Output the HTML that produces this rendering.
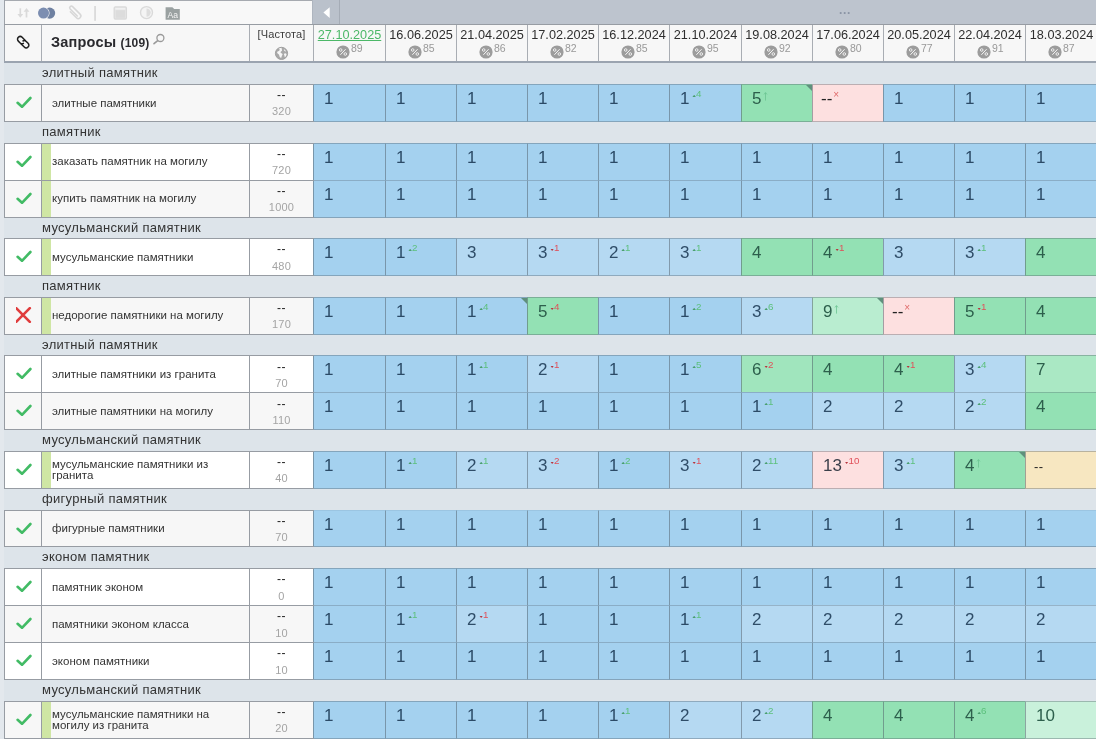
<!DOCTYPE html>
<html lang="ru"><head><meta charset="utf-8"><title>Запросы</title>
<style>
html,body{margin:0;padding:0}
body{width:1096px;height:739px;overflow:hidden;background:#dde4ea;font-family:"Liberation Sans","DejaVu Sans",sans-serif;color:#333}
#app{position:relative;width:1096px;height:739px;overflow:hidden;background:#dde4ea}
#app>div{position:absolute;box-sizing:border-box}
.lstrip{background:#e3e8ed}
.vl{background:#979ca3}
.hl{background:#979ca3}
.tb{background:#f8f8f8}
.gbar{background:#bdc4ce}
.hc{background:#f7f7f7}
.g{left:42px;width:600px;font-size:13px;letter-spacing:0.3px;color:#333;white-space:nowrap}
.st{left:5px;width:36px;display:flex;align-items:center;justify-content:center;padding:0 0 2px 1px}
.strip{background:#cfe6a4}
.q{left:52px;width:196px;display:flex;align-items:center;font-size:11.5px;color:#333;line-height:11px;padding-bottom:2px}
.fq{left:250px;width:63px;text-align:center}
.fq .fd{position:absolute;left:0;right:0;top:4px;font-size:12px;color:#222;line-height:14px;letter-spacing:0.5px}
.fq .fv{position:absolute;left:0;right:0;top:20px;font-size:11px;color:#a4a4a4;line-height:14px;letter-spacing:0.2px}
.c{border-left:1px solid rgba(80,92,104,.5);border-top:1px solid rgba(80,92,104,.38);white-space:nowrap;padding:4px 0 0 10px;font-size:0}
.c.sh{border-top-color:rgba(80,92,104,.3)}
.c.nt{border-top-color:rgba(80,92,104,.1)}
.c.lb{border-bottom:1px solid rgba(80,92,104,.38)}
.c .v{display:inline-block;vertical-align:top;font-size:17px;line-height:20px}
.c .d{display:inline-block;vertical-align:top;margin:0 0 0 3px;font-size:9.8px;line-height:10px}
.c .d i{display:inline-block;width:3.4px;height:2.3px;margin-right:0.2px;vertical-align:0;clip-path:polygon(50% 0,100% 100%,0 100%)}
.c .up{color:#5cc07c}
.c .up i{background:#4a9f70}
.c .dn{color:#e0505a}
.c .dn i{background:#b8363f;clip-path:polygon(0 0,100% 0,50% 100%)}
.c .ar{display:inline-block;vertical-align:top;margin:3px 0 0 2px;width:5px;height:10px}
.c .ar svg{display:block}
.c .xx{display:inline-block;vertical-align:top;margin:0 0 0 1px;font-size:10px;line-height:12px;color:#e06a6a}
.c.dash{padding-left:8px}
.c .cn{position:absolute;right:0;top:0;width:0;height:0;border-top:6px solid #5f907c;border-left:6px solid transparent}
.dh{background:#f7f7f7;text-align:center}
.dh .dt{position:absolute;left:0;right:0;top:3px;font-size:12.7px;line-height:15px;color:#2e2e2e}
.dh.cur .dt{color:#4cb868;text-decoration:underline}
.dh .pc{position:absolute;left:21.6px;top:20.4px;width:14px;height:14px}
.dh .pc svg{display:block}
.dh .pv{position:absolute;left:37px;top:17px;font-size:10.5px;line-height:12px;color:#999}
.ttl{font-weight:bold;font-size:14.5px;letter-spacing:0.2px;line-height:35px;color:#2a2a2e;white-space:nowrap}
.ttl span{font-size:12px}
.frq{font-size:11px;letter-spacing:0.1px;text-align:center;line-height:18px;color:#3c3c3c}

.gbtn{background:#bac1cb;border-right:1px solid #a5acb6;border-left:1px solid #aeb5bf}
.gbtn svg,.tbi svg,.lnk svg,.mag svg,.glb svg{display:block}
.dots{font-size:12px;line-height:20px;color:#8b94a5;text-align:center;letter-spacing:0.6px;font-weight:bold}
.hl2{background:#9ba4b0}
.c.bg .v{font-size:13px;letter-spacing:0.3px}
.c.bg{padding-top:5px}
.q span{position:relative;display:block}

</style></head>
<body>
<div id="app">
<div class="lstrip" style="left:0;top:0;width:4px;height:739px"></div>
<div class="tb" style="left:5px;top:1px;width:307px;height:23px"></div>
<div class="gbar" style="left:312px;top:0;width:784px;height:25px"></div>
<div class="gbtn" style="left:312px;top:0;width:28px;height:25px"><svg viewBox="0 0 26 25" width="26" height="25"><path d="M16.7 7.2 L16.7 17.9 L10.4 12.6 Z" fill="#fff"/></svg></div>
<div class="dots" style="left:836px;top:0;width:18px;height:24px">...</div>
<div class="hl" style="left:4px;top:0;width:308px;height:1px;background:#a6aab0"></div>
<div class="vl" style="left:4px;top:0;width:1px;height:62px;background:#9da2a9"></div>
<div class="hc" style="left:5px;top:25px;width:308px;height:36px"></div>
<div class="hl" style="left:4px;top:24px;width:1092px;height:1px"></div>
<div class="hl2" style="left:4px;top:61px;width:1092px;height:2px"></div>
<div class="vl" style="left:41px;top:25px;width:1px;height:36px;background:#a9adb3"></div>
<div class="vl" style="left:249px;top:25px;width:1px;height:36px;background:#a9adb3"></div>
<div class="vl" style="left:313px;top:25px;width:1px;height:36px;background:#a9adb3"></div>
<div class="tbi" style="left:5px;top:1px;width:200px;height:23px"><svg viewBox="5 1 200 23" width="200" height="23">
<g fill="none" stroke="#dadada" stroke-width="1.7" stroke-linecap="butt">
<path d="M20.3 8.3 V15.5"/><path d="M26.5 10.5 V17.5"/>
</g>
<path d="M17.4 14 H23.2 L20.3 17.7 Z" fill="#dadada"/><path d="M23.6 11.8 H29.4 L26.5 8.1 Z" fill="#dadada"/>
<circle cx="49.6" cy="13.1" r="5.6" fill="#6f81a1"/>
<circle cx="43.5" cy="13.1" r="6.1" fill="#f8f8f8"/>
<circle cx="43.5" cy="13.1" r="5.5" fill="#7c8eb1"/>
<g transform="rotate(-45 75.2 12.9)" fill="none" stroke="#d7d7d7" stroke-width="1.5" stroke-linecap="round">
<path d="M72.6 8.6 V17.2 a2.6 2.6 0 0 0 5.2 0 V6.6 a1.7 1.7 0 0 0 -3.4 0 V16.6"/>
</g>
<rect x="94.3" y="6" width="1.5" height="14.8" fill="#d4d4d4"/>
<rect x="114.2" y="6.8" width="12.2" height="12.2" rx="1.2" fill="#e6e6e6" stroke="#dadada" stroke-width="1.3"/>
<rect x="115.6" y="10.2" width="9.4" height="7.6" fill="#dcdcdc"/>
<rect x="115.4" y="8.2" width="9.8" height="1.2" fill="#f4f4f4"/>
<circle cx="146.5" cy="12.6" r="6" fill="#f4f4f4" stroke="#dadada" stroke-width="1.4"/>
<path d="M146.5 8.4 a4.2 4.2 0 0 1 0 8.4 Z" fill="#dddddd"/>
<path d="M165.6 7.2 H172.4 L174.2 9.1 H179.8 V19.7 H165.6 Z" fill="#9aa1a1"/>
<text x="172.7" y="17.9" font-family="Liberation Sans, sans-serif" font-size="8.6" fill="#f4f4f4" text-anchor="middle">Aa</text>
</svg></div>
<div class="lnk" style="left:5px;top:25px;width:36px;height:36px"><svg viewBox="5 25 36 36" width="36" height="36">
<g transform="translate(23.2 42.2) rotate(45)" fill="none" stroke="#1e1e1e" stroke-width="1.5" stroke-linecap="round">
<path d="M0.2 -2.7 H-4.2 a2.7 2.7 0 0 0 0 5.4 H-1.6 a2.7 2.7 0 0 0 2.6 -2"/>
<path d="M-0.2 2.7 H4.2 a2.7 2.7 0 0 0 0 -5.4 H1.6 a2.7 2.7 0 0 0 -2.6 2"/>
</g></svg></div>
<div class="ttl" style="left:51px;top:25px;width:190px;height:36px">Запросы <span>(109)</span></div>
<div class="mag" style="left:150px;top:30px;width:18px;height:18px"><svg viewBox="150 30 18 18" width="18" height="18">
<circle cx="160.4" cy="38" r="3.5" fill="none" stroke="#9a9a9a" stroke-width="1.3"/>
<path d="M157.7 40.6 L154 43.7" stroke="#9a9a9a" stroke-width="1.6" stroke-linecap="round" fill="none"/></svg></div>
<div class="frq" style="left:250px;top:25px;width:63px;height:36px">[Частота]</div>
<div class="glb" style="left:274px;top:46px;width:15px;height:15px"><svg viewBox="0 0 15 15" width="15" height="15">
<circle cx="7.5" cy="7.4" r="6.1" fill="#a9a9a9" stroke="#a0a0a0" stroke-width="1"/>
<path d="M4.6 2.6 C5.6 3 6 3.8 5.4 4.6 C4.8 5.4 3.6 5.2 3.2 6 C2.8 7 3.8 7.6 4.6 8.2 C5.4 8.8 5.2 10 5.8 11 C6.2 11.8 7 12 7.4 11.4 C7.8 10.6 7.6 9.8 8.2 9.2 C8.8 8.6 8.6 7.8 7.8 7.4 C7 7 6.4 6.8 6.6 6 C6.8 5.2 7.8 5.2 8 4.4 C8.2 3.6 7.4 3 7.8 2.2 C6.6 1.8 5.4 2 4.6 2.6 Z" fill="#f6f6f6"/>
<path d="M10 3.2 C10.8 3.6 11.6 4.4 12 5.4 C11.4 5.6 10.8 5.4 10.4 4.8 C10 4.2 9.6 3.8 10 3.2 Z M10.6 7.4 C11.4 7.2 12.2 7.6 12.6 8.2 C12.4 9.4 11.8 10.4 11 11.2 C10.4 10.6 10.6 9.8 10.2 9 C9.8 8.4 10 7.8 10.6 7.4 Z" fill="#f6f6f6"/>
</svg></div>

<div class="dh cur" style="left:314px;top:25px;width:71px;height:36px"><span class="dt">27.10.2025</span><span class="pc"><svg viewBox="0 0 14 14" width="14" height="14"><circle cx="7" cy="7" r="6.6" fill="#9c9c9c"/><path d="M4.4 9.8 L9.6 4.2" stroke="#fff" stroke-width="0.9" fill="none"/><circle cx="4.7" cy="5" r="1.3" fill="none" stroke="#fff" stroke-width="0.8"/><circle cx="9.3" cy="9" r="1.3" fill="none" stroke="#fff" stroke-width="0.8"/></svg></span><span class="pv">89</span></div>
<div class="vl" style="left:385px;top:25px;width:1px;height:36px;background:#a9adb3"></div>
<div class="dh" style="left:386px;top:25px;width:70px;height:36px"><span class="dt">16.06.2025</span><span class="pc"><svg viewBox="0 0 14 14" width="14" height="14"><circle cx="7" cy="7" r="6.6" fill="#9c9c9c"/><path d="M4.4 9.8 L9.6 4.2" stroke="#fff" stroke-width="0.9" fill="none"/><circle cx="4.7" cy="5" r="1.3" fill="none" stroke="#fff" stroke-width="0.8"/><circle cx="9.3" cy="9" r="1.3" fill="none" stroke="#fff" stroke-width="0.8"/></svg></span><span class="pv">85</span></div>
<div class="vl" style="left:456px;top:25px;width:1px;height:36px;background:#a9adb3"></div>
<div class="dh" style="left:457px;top:25px;width:70px;height:36px"><span class="dt">21.04.2025</span><span class="pc"><svg viewBox="0 0 14 14" width="14" height="14"><circle cx="7" cy="7" r="6.6" fill="#9c9c9c"/><path d="M4.4 9.8 L9.6 4.2" stroke="#fff" stroke-width="0.9" fill="none"/><circle cx="4.7" cy="5" r="1.3" fill="none" stroke="#fff" stroke-width="0.8"/><circle cx="9.3" cy="9" r="1.3" fill="none" stroke="#fff" stroke-width="0.8"/></svg></span><span class="pv">86</span></div>
<div class="vl" style="left:527px;top:25px;width:1px;height:36px;background:#a9adb3"></div>
<div class="dh" style="left:528px;top:25px;width:70px;height:36px"><span class="dt">17.02.2025</span><span class="pc"><svg viewBox="0 0 14 14" width="14" height="14"><circle cx="7" cy="7" r="6.6" fill="#9c9c9c"/><path d="M4.4 9.8 L9.6 4.2" stroke="#fff" stroke-width="0.9" fill="none"/><circle cx="4.7" cy="5" r="1.3" fill="none" stroke="#fff" stroke-width="0.8"/><circle cx="9.3" cy="9" r="1.3" fill="none" stroke="#fff" stroke-width="0.8"/></svg></span><span class="pv">82</span></div>
<div class="vl" style="left:598px;top:25px;width:1px;height:36px;background:#a9adb3"></div>
<div class="dh" style="left:599px;top:25px;width:70px;height:36px"><span class="dt">16.12.2024</span><span class="pc"><svg viewBox="0 0 14 14" width="14" height="14"><circle cx="7" cy="7" r="6.6" fill="#9c9c9c"/><path d="M4.4 9.8 L9.6 4.2" stroke="#fff" stroke-width="0.9" fill="none"/><circle cx="4.7" cy="5" r="1.3" fill="none" stroke="#fff" stroke-width="0.8"/><circle cx="9.3" cy="9" r="1.3" fill="none" stroke="#fff" stroke-width="0.8"/></svg></span><span class="pv">85</span></div>
<div class="vl" style="left:669px;top:25px;width:1px;height:36px;background:#a9adb3"></div>
<div class="dh" style="left:670px;top:25px;width:71px;height:36px"><span class="dt">21.10.2024</span><span class="pc"><svg viewBox="0 0 14 14" width="14" height="14"><circle cx="7" cy="7" r="6.6" fill="#9c9c9c"/><path d="M4.4 9.8 L9.6 4.2" stroke="#fff" stroke-width="0.9" fill="none"/><circle cx="4.7" cy="5" r="1.3" fill="none" stroke="#fff" stroke-width="0.8"/><circle cx="9.3" cy="9" r="1.3" fill="none" stroke="#fff" stroke-width="0.8"/></svg></span><span class="pv">95</span></div>
<div class="vl" style="left:741px;top:25px;width:1px;height:36px;background:#a9adb3"></div>
<div class="dh" style="left:742px;top:25px;width:70px;height:36px"><span class="dt">19.08.2024</span><span class="pc"><svg viewBox="0 0 14 14" width="14" height="14"><circle cx="7" cy="7" r="6.6" fill="#9c9c9c"/><path d="M4.4 9.8 L9.6 4.2" stroke="#fff" stroke-width="0.9" fill="none"/><circle cx="4.7" cy="5" r="1.3" fill="none" stroke="#fff" stroke-width="0.8"/><circle cx="9.3" cy="9" r="1.3" fill="none" stroke="#fff" stroke-width="0.8"/></svg></span><span class="pv">92</span></div>
<div class="vl" style="left:812px;top:25px;width:1px;height:36px;background:#a9adb3"></div>
<div class="dh" style="left:813px;top:25px;width:70px;height:36px"><span class="dt">17.06.2024</span><span class="pc"><svg viewBox="0 0 14 14" width="14" height="14"><circle cx="7" cy="7" r="6.6" fill="#9c9c9c"/><path d="M4.4 9.8 L9.6 4.2" stroke="#fff" stroke-width="0.9" fill="none"/><circle cx="4.7" cy="5" r="1.3" fill="none" stroke="#fff" stroke-width="0.8"/><circle cx="9.3" cy="9" r="1.3" fill="none" stroke="#fff" stroke-width="0.8"/></svg></span><span class="pv">80</span></div>
<div class="vl" style="left:883px;top:25px;width:1px;height:36px;background:#a9adb3"></div>
<div class="dh" style="left:884px;top:25px;width:70px;height:36px"><span class="dt">20.05.2024</span><span class="pc"><svg viewBox="0 0 14 14" width="14" height="14"><circle cx="7" cy="7" r="6.6" fill="#9c9c9c"/><path d="M4.4 9.8 L9.6 4.2" stroke="#fff" stroke-width="0.9" fill="none"/><circle cx="4.7" cy="5" r="1.3" fill="none" stroke="#fff" stroke-width="0.8"/><circle cx="9.3" cy="9" r="1.3" fill="none" stroke="#fff" stroke-width="0.8"/></svg></span><span class="pv">77</span></div>
<div class="vl" style="left:954px;top:25px;width:1px;height:36px;background:#a9adb3"></div>
<div class="dh" style="left:955px;top:25px;width:70px;height:36px"><span class="dt">22.04.2024</span><span class="pc"><svg viewBox="0 0 14 14" width="14" height="14"><circle cx="7" cy="7" r="6.6" fill="#9c9c9c"/><path d="M4.4 9.8 L9.6 4.2" stroke="#fff" stroke-width="0.9" fill="none"/><circle cx="4.7" cy="5" r="1.3" fill="none" stroke="#fff" stroke-width="0.8"/><circle cx="9.3" cy="9" r="1.3" fill="none" stroke="#fff" stroke-width="0.8"/></svg></span><span class="pv">91</span></div>
<div class="vl" style="left:1025px;top:25px;width:1px;height:36px;background:#a9adb3"></div>
<div class="dh" style="left:1026px;top:25px;width:71px;height:36px"><span class="dt">18.03.2024</span><span class="pc"><svg viewBox="0 0 14 14" width="14" height="14"><circle cx="7" cy="7" r="6.6" fill="#9c9c9c"/><path d="M4.4 9.8 L9.6 4.2" stroke="#fff" stroke-width="0.9" fill="none"/><circle cx="4.7" cy="5" r="1.3" fill="none" stroke="#fff" stroke-width="0.8"/><circle cx="9.3" cy="9" r="1.3" fill="none" stroke="#fff" stroke-width="0.8"/></svg></span><span class="pv">87</span></div>
<div class="g" style="top:62px;height:22px;line-height:22px">элитный памятник</div>
<div class="rowbg" style="left:4px;top:84px;width:310px;height:38px;background:#f7f7f7"></div>
<div class="st" style="top:84px;height:38px"><svg class="ic" viewBox="0 -0.4 16 12" width="16" height="12"><path d="M1.6 6.4 L6 10.4 L14.4 1.6" fill="none" stroke="#42bb65" stroke-width="2.6" stroke-linecap="round" stroke-linejoin="round"/></svg></div>
<div class="q" style="top:84px;height:38px"><span style="top:1px">элитные памятники</span></div>
<div class="fq" style="top:84px;height:38px"><span class="fd">--</span><span class="fv">320</span></div>
<div class="vl" style="left:4px;top:84px;width:1px;height:38px;"></div>
<div class="vl" style="left:41px;top:84px;width:1px;height:38px;"></div>
<div class="vl" style="left:249px;top:84px;width:1px;height:38px;"></div>
<div class="c lb" style="left:313px;top:84px;width:72px;height:38px;background:#a4d1ef"><span class="v" style="color:#2b4a66">1</span></div>
<div class="c lb" style="left:385px;top:84px;width:71px;height:38px;background:#a4d1ef"><span class="v" style="color:#2b4a66">1</span></div>
<div class="c lb" style="left:456px;top:84px;width:71px;height:38px;background:#a4d1ef"><span class="v" style="color:#2b4a66">1</span></div>
<div class="c lb" style="left:527px;top:84px;width:71px;height:38px;background:#a4d1ef"><span class="v" style="color:#2b4a66">1</span></div>
<div class="c lb" style="left:598px;top:84px;width:71px;height:38px;background:#a4d1ef"><span class="v" style="color:#2b4a66">1</span></div>
<div class="c lb" style="left:669px;top:84px;width:72px;height:38px;background:#a4d1ef"><span class="v" style="color:#2b4a66">1</span><span class="d up"><i></i>4</span></div>
<div class="c lb" style="left:741px;top:84px;width:71px;height:38px;background:#93e1b4"><span class="v" style="color:#2d5f4c">5</span><span class="ar"><svg viewBox="0 0 5 10" width="5" height="10"><path d="M2.5 0.8 V8.6 M1 2.4 L2.5 0.6 L4 2.4" fill="none" stroke="#6bc490" stroke-width="0.8"/></svg></span><b class="cn"></b></div>
<div class="c lb dash" style="left:812px;top:84px;width:71px;height:38px;background:#fde0e0"><span class="v" style="color:#222">--</span><span class="xx">×</span></div>
<div class="c lb" style="left:883px;top:84px;width:71px;height:38px;background:#a4d1ef"><span class="v" style="color:#2b4a66">1</span></div>
<div class="c lb" style="left:954px;top:84px;width:71px;height:38px;background:#a4d1ef"><span class="v" style="color:#2b4a66">1</span></div>
<div class="c lb" style="left:1025px;top:84px;width:72px;height:38px;background:#a4d1ef"><span class="v" style="color:#2b4a66">1</span></div>
<div class="hl" style="left:4px;top:84px;width:310px;height:1px;"></div>
<div class="hl" style="left:4px;top:121px;width:310px;height:1px;"></div>
<div class="g" style="top:121px;height:22px;line-height:22px">памятник</div>
<div class="rowbg" style="left:4px;top:143px;width:310px;height:38px;background:#ffffff"></div>
<div class="st" style="top:143px;height:38px"><svg class="ic" viewBox="0 -0.4 16 12" width="16" height="12"><path d="M1.6 6.4 L6 10.4 L14.4 1.6" fill="none" stroke="#42bb65" stroke-width="2.6" stroke-linecap="round" stroke-linejoin="round"/></svg></div>
<div class="strip" style="left:42px;top:144px;width:9px;height:36px;"></div>
<div class="q" style="top:143px;height:38px"><span>заказать памятник на могилу</span></div>
<div class="fq" style="top:143px;height:38px"><span class="fd">--</span><span class="fv">720</span></div>
<div class="vl" style="left:4px;top:143px;width:1px;height:38px;"></div>
<div class="vl" style="left:41px;top:143px;width:1px;height:38px;"></div>
<div class="vl" style="left:249px;top:143px;width:1px;height:38px;"></div>
<div class="c" style="left:313px;top:143px;width:72px;height:37px;background:#a4d1ef"><span class="v" style="color:#2b4a66">1</span></div>
<div class="c" style="left:385px;top:143px;width:71px;height:37px;background:#a4d1ef"><span class="v" style="color:#2b4a66">1</span></div>
<div class="c" style="left:456px;top:143px;width:71px;height:37px;background:#a4d1ef"><span class="v" style="color:#2b4a66">1</span></div>
<div class="c" style="left:527px;top:143px;width:71px;height:37px;background:#a4d1ef"><span class="v" style="color:#2b4a66">1</span></div>
<div class="c" style="left:598px;top:143px;width:71px;height:37px;background:#a4d1ef"><span class="v" style="color:#2b4a66">1</span></div>
<div class="c" style="left:669px;top:143px;width:72px;height:37px;background:#a4d1ef"><span class="v" style="color:#2b4a66">1</span></div>
<div class="c" style="left:741px;top:143px;width:71px;height:37px;background:#a4d1ef"><span class="v" style="color:#2b4a66">1</span></div>
<div class="c" style="left:812px;top:143px;width:71px;height:37px;background:#a4d1ef"><span class="v" style="color:#2b4a66">1</span></div>
<div class="c" style="left:883px;top:143px;width:71px;height:37px;background:#a4d1ef"><span class="v" style="color:#2b4a66">1</span></div>
<div class="c" style="left:954px;top:143px;width:71px;height:37px;background:#a4d1ef"><span class="v" style="color:#2b4a66">1</span></div>
<div class="c" style="left:1025px;top:143px;width:72px;height:37px;background:#a4d1ef"><span class="v" style="color:#2b4a66">1</span></div>
<div class="hl" style="left:4px;top:143px;width:310px;height:1px;"></div>
<div class="hl" style="left:4px;top:180px;width:310px;height:1px;"></div>
<div class="rowbg" style="left:4px;top:180px;width:310px;height:38px;background:#f7f7f7"></div>
<div class="st" style="top:180px;height:38px"><svg class="ic" viewBox="0 -0.4 16 12" width="16" height="12"><path d="M1.6 6.4 L6 10.4 L14.4 1.6" fill="none" stroke="#42bb65" stroke-width="2.6" stroke-linecap="round" stroke-linejoin="round"/></svg></div>
<div class="strip" style="left:42px;top:181px;width:9px;height:36px;"></div>
<div class="q" style="top:180px;height:38px"><span>купить памятник на могилу</span></div>
<div class="fq" style="top:180px;height:38px"><span class="fd">--</span><span class="fv">1000</span></div>
<div class="vl" style="left:4px;top:180px;width:1px;height:38px;"></div>
<div class="vl" style="left:41px;top:180px;width:1px;height:38px;"></div>
<div class="vl" style="left:249px;top:180px;width:1px;height:38px;"></div>
<div class="c sh lb" style="left:313px;top:180px;width:72px;height:38px;background:#a4d1ef"><span class="v" style="color:#2b4a66">1</span></div>
<div class="c sh lb" style="left:385px;top:180px;width:71px;height:38px;background:#a4d1ef"><span class="v" style="color:#2b4a66">1</span></div>
<div class="c sh lb" style="left:456px;top:180px;width:71px;height:38px;background:#a4d1ef"><span class="v" style="color:#2b4a66">1</span></div>
<div class="c sh lb" style="left:527px;top:180px;width:71px;height:38px;background:#a4d1ef"><span class="v" style="color:#2b4a66">1</span></div>
<div class="c sh lb" style="left:598px;top:180px;width:71px;height:38px;background:#a4d1ef"><span class="v" style="color:#2b4a66">1</span></div>
<div class="c sh lb" style="left:669px;top:180px;width:72px;height:38px;background:#a4d1ef"><span class="v" style="color:#2b4a66">1</span></div>
<div class="c sh lb" style="left:741px;top:180px;width:71px;height:38px;background:#a4d1ef"><span class="v" style="color:#2b4a66">1</span></div>
<div class="c sh lb" style="left:812px;top:180px;width:71px;height:38px;background:#a4d1ef"><span class="v" style="color:#2b4a66">1</span></div>
<div class="c sh lb" style="left:883px;top:180px;width:71px;height:38px;background:#a4d1ef"><span class="v" style="color:#2b4a66">1</span></div>
<div class="c sh lb" style="left:954px;top:180px;width:71px;height:38px;background:#a4d1ef"><span class="v" style="color:#2b4a66">1</span></div>
<div class="c sh lb" style="left:1025px;top:180px;width:72px;height:38px;background:#a4d1ef"><span class="v" style="color:#2b4a66">1</span></div>
<div class="hl" style="left:4px;top:180px;width:310px;height:1px;"></div>
<div class="hl" style="left:4px;top:217px;width:310px;height:1px;"></div>
<div class="g" style="top:217px;height:21px;line-height:21px">мусульманский памятник</div>
<div class="rowbg" style="left:4px;top:238px;width:310px;height:38px;background:#ffffff"></div>
<div class="st" style="top:238px;height:38px"><svg class="ic" viewBox="0 -0.4 16 12" width="16" height="12"><path d="M1.6 6.4 L6 10.4 L14.4 1.6" fill="none" stroke="#42bb65" stroke-width="2.6" stroke-linecap="round" stroke-linejoin="round"/></svg></div>
<div class="strip" style="left:42px;top:239px;width:9px;height:36px;"></div>
<div class="q" style="top:238px;height:38px"><span style="top:1px">мусульманские памятники</span></div>
<div class="fq" style="top:238px;height:38px"><span class="fd">--</span><span class="fv" style="top:21px">480</span></div>
<div class="vl" style="left:4px;top:238px;width:1px;height:38px;"></div>
<div class="vl" style="left:41px;top:238px;width:1px;height:38px;"></div>
<div class="vl" style="left:249px;top:238px;width:1px;height:38px;"></div>
<div class="c lb" style="left:313px;top:238px;width:72px;height:38px;background:#a4d1ef"><span class="v" style="color:#2b4a66">1</span></div>
<div class="c lb" style="left:385px;top:238px;width:71px;height:38px;background:#a4d1ef"><span class="v" style="color:#2b4a66">1</span><span class="d up"><i></i>2</span></div>
<div class="c lb" style="left:456px;top:238px;width:71px;height:38px;background:#b5d9f2"><span class="v" style="color:#2f4d68">3</span></div>
<div class="c lb" style="left:527px;top:238px;width:71px;height:38px;background:#b5d9f2"><span class="v" style="color:#2f4d68">3</span><span class="d dn"><i></i>1</span></div>
<div class="c lb" style="left:598px;top:238px;width:71px;height:38px;background:#b5d9f2"><span class="v" style="color:#2f4d68">2</span><span class="d up"><i></i>1</span></div>
<div class="c lb" style="left:669px;top:238px;width:72px;height:38px;background:#b5d9f2"><span class="v" style="color:#2f4d68">3</span><span class="d up"><i></i>1</span></div>
<div class="c lb" style="left:741px;top:238px;width:71px;height:38px;background:#93e1b4"><span class="v" style="color:#2d5f4c">4</span></div>
<div class="c lb" style="left:812px;top:238px;width:71px;height:38px;background:#93e1b4"><span class="v" style="color:#2d5f4c">4</span><span class="d dn"><i></i>1</span></div>
<div class="c lb" style="left:883px;top:238px;width:71px;height:38px;background:#b5d9f2"><span class="v" style="color:#2f4d68">3</span></div>
<div class="c lb" style="left:954px;top:238px;width:71px;height:38px;background:#b5d9f2"><span class="v" style="color:#2f4d68">3</span><span class="d up"><i></i>1</span></div>
<div class="c lb" style="left:1025px;top:238px;width:72px;height:38px;background:#93e1b4"><span class="v" style="color:#2d5f4c">4</span></div>
<div class="hl" style="left:4px;top:238px;width:310px;height:1px;"></div>
<div class="hl" style="left:4px;top:275px;width:310px;height:1px;"></div>
<div class="g" style="top:275px;height:22px;line-height:22px">памятник</div>
<div class="rowbg" style="left:4px;top:297px;width:310px;height:38px;background:#f7f7f7"></div>
<div class="st" style="top:297px;height:38px"><svg class="ic" viewBox="1 0 16 16" width="16" height="16"><path d="M1.2 1.2 L14.8 14.8 M14.8 1.2 L1.2 14.8" fill="none" stroke="#e03c3c" stroke-width="2.6" stroke-linecap="round"/></svg></div>
<div class="strip" style="left:42px;top:298px;width:9px;height:36px;"></div>
<div class="q" style="top:297px;height:38px"><span>недорогие памятники на могилу</span></div>
<div class="fq" style="top:297px;height:38px"><span class="fd">--</span><span class="fv">170</span></div>
<div class="vl" style="left:4px;top:297px;width:1px;height:38px;"></div>
<div class="vl" style="left:41px;top:297px;width:1px;height:38px;"></div>
<div class="vl" style="left:249px;top:297px;width:1px;height:38px;"></div>
<div class="c lb" style="left:313px;top:297px;width:72px;height:38px;background:#a4d1ef"><span class="v" style="color:#2b4a66">1</span></div>
<div class="c lb" style="left:385px;top:297px;width:71px;height:38px;background:#a4d1ef"><span class="v" style="color:#2b4a66">1</span></div>
<div class="c lb" style="left:456px;top:297px;width:71px;height:38px;background:#a4d1ef"><span class="v" style="color:#2b4a66">1</span><span class="d up"><i></i>4</span><b class="cn"></b></div>
<div class="c lb" style="left:527px;top:297px;width:71px;height:38px;background:#93e1b4"><span class="v" style="color:#2d5f4c">5</span><span class="d dn"><i></i>4</span></div>
<div class="c lb" style="left:598px;top:297px;width:71px;height:38px;background:#a4d1ef"><span class="v" style="color:#2b4a66">1</span></div>
<div class="c lb" style="left:669px;top:297px;width:72px;height:38px;background:#a4d1ef"><span class="v" style="color:#2b4a66">1</span><span class="d up"><i></i>2</span></div>
<div class="c lb" style="left:741px;top:297px;width:71px;height:38px;background:#b5d9f2"><span class="v" style="color:#2f4d68">3</span><span class="d up"><i></i>6</span></div>
<div class="c lb" style="left:812px;top:297px;width:71px;height:38px;background:#b9edd0"><span class="v" style="color:#2d5f4c">9</span><span class="ar"><svg viewBox="0 0 5 10" width="5" height="10"><path d="M2.5 0.8 V8.6 M1 2.4 L2.5 0.6 L4 2.4" fill="none" stroke="#6bc490" stroke-width="0.8"/></svg></span><b class="cn"></b></div>
<div class="c lb dash" style="left:883px;top:297px;width:71px;height:38px;background:#fde0e0"><span class="v" style="color:#222">--</span><span class="xx">×</span></div>
<div class="c lb" style="left:954px;top:297px;width:71px;height:38px;background:#93e1b4"><span class="v" style="color:#2d5f4c">5</span><span class="d dn"><i></i>1</span></div>
<div class="c lb" style="left:1025px;top:297px;width:72px;height:38px;background:#93e1b4"><span class="v" style="color:#2d5f4c">4</span></div>
<div class="hl" style="left:4px;top:297px;width:310px;height:1px;"></div>
<div class="hl" style="left:4px;top:334px;width:310px;height:1px;"></div>
<div class="g" style="top:334px;height:21px;line-height:21px">элитный памятник</div>
<div class="rowbg" style="left:4px;top:355px;width:310px;height:38px;background:#ffffff"></div>
<div class="st" style="top:355px;height:38px"><svg class="ic" viewBox="0 -0.4 16 12" width="16" height="12"><path d="M1.6 6.4 L6 10.4 L14.4 1.6" fill="none" stroke="#42bb65" stroke-width="2.6" stroke-linecap="round" stroke-linejoin="round"/></svg></div>
<div class="q" style="top:355px;height:38px"><span style="top:1px">элитные памятники из гранита</span></div>
<div class="fq" style="top:355px;height:38px"><span class="fd" style="top:5px">--</span><span class="fv" style="top:21px">70</span></div>
<div class="vl" style="left:4px;top:355px;width:1px;height:38px;"></div>
<div class="vl" style="left:41px;top:355px;width:1px;height:38px;"></div>
<div class="vl" style="left:249px;top:355px;width:1px;height:38px;"></div>
<div class="c" style="left:313px;top:355px;width:72px;height:37px;background:#a4d1ef"><span class="v" style="color:#2b4a66">1</span></div>
<div class="c" style="left:385px;top:355px;width:71px;height:37px;background:#a4d1ef"><span class="v" style="color:#2b4a66">1</span></div>
<div class="c" style="left:456px;top:355px;width:71px;height:37px;background:#a4d1ef"><span class="v" style="color:#2b4a66">1</span><span class="d up"><i></i>1</span></div>
<div class="c" style="left:527px;top:355px;width:71px;height:37px;background:#b5d9f2"><span class="v" style="color:#2f4d68">2</span><span class="d dn"><i></i>1</span></div>
<div class="c" style="left:598px;top:355px;width:71px;height:37px;background:#a4d1ef"><span class="v" style="color:#2b4a66">1</span></div>
<div class="c" style="left:669px;top:355px;width:72px;height:37px;background:#a4d1ef"><span class="v" style="color:#2b4a66">1</span><span class="d up"><i></i>5</span></div>
<div class="c" style="left:741px;top:355px;width:71px;height:37px;background:#a0e5bd"><span class="v" style="color:#2d5f4c">6</span><span class="d dn"><i></i>2</span></div>
<div class="c" style="left:812px;top:355px;width:71px;height:37px;background:#93e1b4"><span class="v" style="color:#2d5f4c">4</span></div>
<div class="c" style="left:883px;top:355px;width:71px;height:37px;background:#93e1b4"><span class="v" style="color:#2d5f4c">4</span><span class="d dn"><i></i>1</span></div>
<div class="c" style="left:954px;top:355px;width:71px;height:37px;background:#b5d9f2"><span class="v" style="color:#2f4d68">3</span><span class="d up"><i></i>4</span></div>
<div class="c" style="left:1025px;top:355px;width:72px;height:37px;background:#aae8c4"><span class="v" style="color:#2d5f4c">7</span></div>
<div class="hl" style="left:4px;top:355px;width:310px;height:1px;"></div>
<div class="hl" style="left:4px;top:392px;width:310px;height:1px;"></div>
<div class="rowbg" style="left:4px;top:392px;width:310px;height:38px;background:#f7f7f7"></div>
<div class="st" style="top:392px;height:38px"><svg class="ic" viewBox="0 -0.4 16 12" width="16" height="12"><path d="M1.6 6.4 L6 10.4 L14.4 1.6" fill="none" stroke="#42bb65" stroke-width="2.6" stroke-linecap="round" stroke-linejoin="round"/></svg></div>
<div class="q" style="top:392px;height:38px"><span style="top:1px">элитные памятники на могилу</span></div>
<div class="fq" style="top:392px;height:38px"><span class="fd" style="top:5px">--</span><span class="fv" style="top:21px">110</span></div>
<div class="vl" style="left:4px;top:392px;width:1px;height:38px;"></div>
<div class="vl" style="left:41px;top:392px;width:1px;height:38px;"></div>
<div class="vl" style="left:249px;top:392px;width:1px;height:38px;"></div>
<div class="c sh lb" style="left:313px;top:392px;width:72px;height:38px;background:#a4d1ef"><span class="v" style="color:#2b4a66">1</span></div>
<div class="c sh lb" style="left:385px;top:392px;width:71px;height:38px;background:#a4d1ef"><span class="v" style="color:#2b4a66">1</span></div>
<div class="c sh lb" style="left:456px;top:392px;width:71px;height:38px;background:#a4d1ef"><span class="v" style="color:#2b4a66">1</span></div>
<div class="c sh lb" style="left:527px;top:392px;width:71px;height:38px;background:#a4d1ef"><span class="v" style="color:#2b4a66">1</span></div>
<div class="c sh lb" style="left:598px;top:392px;width:71px;height:38px;background:#a4d1ef"><span class="v" style="color:#2b4a66">1</span></div>
<div class="c sh lb" style="left:669px;top:392px;width:72px;height:38px;background:#a4d1ef"><span class="v" style="color:#2b4a66">1</span></div>
<div class="c sh lb" style="left:741px;top:392px;width:71px;height:38px;background:#a4d1ef"><span class="v" style="color:#2b4a66">1</span><span class="d up"><i></i>1</span></div>
<div class="c sh lb" style="left:812px;top:392px;width:71px;height:38px;background:#b5d9f2"><span class="v" style="color:#2f4d68">2</span></div>
<div class="c sh lb" style="left:883px;top:392px;width:71px;height:38px;background:#b5d9f2"><span class="v" style="color:#2f4d68">2</span></div>
<div class="c sh lb" style="left:954px;top:392px;width:71px;height:38px;background:#b5d9f2"><span class="v" style="color:#2f4d68">2</span><span class="d up"><i></i>2</span></div>
<div class="c sh lb" style="left:1025px;top:392px;width:72px;height:38px;background:#93e1b4"><span class="v" style="color:#2d5f4c">4</span></div>
<div class="hl" style="left:4px;top:392px;width:310px;height:1px;"></div>
<div class="hl" style="left:4px;top:429px;width:310px;height:1px;"></div>
<div class="g" style="top:429px;height:22px;line-height:22px">мусульманский памятник</div>
<div class="rowbg" style="left:4px;top:451px;width:310px;height:38px;background:#ffffff"></div>
<div class="st" style="top:451px;height:38px"><svg class="ic" viewBox="0 -0.4 16 12" width="16" height="12"><path d="M1.6 6.4 L6 10.4 L14.4 1.6" fill="none" stroke="#42bb65" stroke-width="2.6" stroke-linecap="round" stroke-linejoin="round"/></svg></div>
<div class="strip" style="left:42px;top:452px;width:9px;height:36px;"></div>
<div class="q q2" style="top:451px;height:38px"><span style="top:1px">мусульманские памятники из<br>гранита</span></div>
<div class="fq" style="top:451px;height:38px"><span class="fd">--</span><span class="fv">40</span></div>
<div class="vl" style="left:4px;top:451px;width:1px;height:38px;"></div>
<div class="vl" style="left:41px;top:451px;width:1px;height:38px;"></div>
<div class="vl" style="left:249px;top:451px;width:1px;height:38px;"></div>
<div class="c lb" style="left:313px;top:451px;width:72px;height:38px;background:#a4d1ef"><span class="v" style="color:#2b4a66">1</span></div>
<div class="c lb" style="left:385px;top:451px;width:71px;height:38px;background:#a4d1ef"><span class="v" style="color:#2b4a66">1</span><span class="d up"><i></i>1</span></div>
<div class="c lb" style="left:456px;top:451px;width:71px;height:38px;background:#b5d9f2"><span class="v" style="color:#2f4d68">2</span><span class="d up"><i></i>1</span></div>
<div class="c lb" style="left:527px;top:451px;width:71px;height:38px;background:#b5d9f2"><span class="v" style="color:#2f4d68">3</span><span class="d dn"><i></i>2</span></div>
<div class="c lb" style="left:598px;top:451px;width:71px;height:38px;background:#a4d1ef"><span class="v" style="color:#2b4a66">1</span><span class="d up"><i></i>2</span></div>
<div class="c lb" style="left:669px;top:451px;width:72px;height:38px;background:#b5d9f2"><span class="v" style="color:#2f4d68">3</span><span class="d dn"><i></i>1</span></div>
<div class="c lb" style="left:741px;top:451px;width:71px;height:38px;background:#b5d9f2"><span class="v" style="color:#2f4d68">2</span><span class="d up"><i></i>11</span></div>
<div class="c lb" style="left:812px;top:451px;width:71px;height:38px;background:#fde0e0"><span class="v" style="color:#3a3f4a">13</span><span class="d dn"><i></i>10</span></div>
<div class="c lb" style="left:883px;top:451px;width:71px;height:38px;background:#b5d9f2"><span class="v" style="color:#2f4d68">3</span><span class="d up"><i></i>1</span></div>
<div class="c lb" style="left:954px;top:451px;width:71px;height:38px;background:#93e1b4"><span class="v" style="color:#2d5f4c">4</span><span class="ar"><svg viewBox="0 0 5 10" width="5" height="10"><path d="M2.5 0.8 V8.6 M1 2.4 L2.5 0.6 L4 2.4" fill="none" stroke="#6bc490" stroke-width="0.8"/></svg></span><b class="cn"></b></div>
<div class="c lb dash bg" style="left:1025px;top:451px;width:72px;height:38px;background:#f7e7c1"><span class="v" style="color:#222">--</span></div>
<div class="hl" style="left:4px;top:451px;width:310px;height:1px;"></div>
<div class="hl" style="left:4px;top:488px;width:310px;height:1px;"></div>
<div class="g" style="top:488px;height:22px;line-height:22px">фигурный памятник</div>
<div class="rowbg" style="left:4px;top:510px;width:310px;height:37px;background:#f7f7f7"></div>
<div class="st" style="top:510px;height:37px"><svg class="ic" viewBox="0 -0.4 16 12" width="16" height="12"><path d="M1.6 6.4 L6 10.4 L14.4 1.6" fill="none" stroke="#42bb65" stroke-width="2.6" stroke-linecap="round" stroke-linejoin="round"/></svg></div>
<div class="q" style="top:510px;height:37px"><span style="top:1px">фигурные памятники</span></div>
<div class="fq" style="top:510px;height:37px"><span class="fd">--</span><span class="fv">70</span></div>
<div class="vl" style="left:4px;top:510px;width:1px;height:37px;"></div>
<div class="vl" style="left:41px;top:510px;width:1px;height:37px;"></div>
<div class="vl" style="left:249px;top:510px;width:1px;height:37px;"></div>
<div class="c lb nt" style="left:313px;top:510px;width:72px;height:37px;background:#a4d1ef"><span class="v" style="color:#2b4a66">1</span></div>
<div class="c lb nt" style="left:385px;top:510px;width:71px;height:37px;background:#a4d1ef"><span class="v" style="color:#2b4a66">1</span></div>
<div class="c lb nt" style="left:456px;top:510px;width:71px;height:37px;background:#a4d1ef"><span class="v" style="color:#2b4a66">1</span></div>
<div class="c lb nt" style="left:527px;top:510px;width:71px;height:37px;background:#a4d1ef"><span class="v" style="color:#2b4a66">1</span></div>
<div class="c lb nt" style="left:598px;top:510px;width:71px;height:37px;background:#a4d1ef"><span class="v" style="color:#2b4a66">1</span></div>
<div class="c lb nt" style="left:669px;top:510px;width:72px;height:37px;background:#a4d1ef"><span class="v" style="color:#2b4a66">1</span></div>
<div class="c lb nt" style="left:741px;top:510px;width:71px;height:37px;background:#a4d1ef"><span class="v" style="color:#2b4a66">1</span></div>
<div class="c lb nt" style="left:812px;top:510px;width:71px;height:37px;background:#a4d1ef"><span class="v" style="color:#2b4a66">1</span></div>
<div class="c lb nt" style="left:883px;top:510px;width:71px;height:37px;background:#a4d1ef"><span class="v" style="color:#2b4a66">1</span></div>
<div class="c lb nt" style="left:954px;top:510px;width:71px;height:37px;background:#a4d1ef"><span class="v" style="color:#2b4a66">1</span></div>
<div class="c lb nt" style="left:1025px;top:510px;width:72px;height:37px;background:#a4d1ef"><span class="v" style="color:#2b4a66">1</span></div>
<div class="hl" style="left:4px;top:510px;width:310px;height:1px;"></div>
<div class="hl" style="left:4px;top:546px;width:310px;height:1px;"></div>
<div class="g" style="top:546px;height:22px;line-height:22px">эконом памятник</div>
<div class="rowbg" style="left:4px;top:568px;width:310px;height:38px;background:#ffffff"></div>
<div class="st" style="top:568px;height:38px"><svg class="ic" viewBox="0 -0.4 16 12" width="16" height="12"><path d="M1.6 6.4 L6 10.4 L14.4 1.6" fill="none" stroke="#42bb65" stroke-width="2.6" stroke-linecap="round" stroke-linejoin="round"/></svg></div>
<div class="q" style="top:568px;height:38px"><span style="top:1px">памятник эконом</span></div>
<div class="fq" style="top:568px;height:38px"><span class="fd">--</span><span class="fv" style="top:21px">0</span></div>
<div class="vl" style="left:4px;top:568px;width:1px;height:38px;"></div>
<div class="vl" style="left:41px;top:568px;width:1px;height:38px;"></div>
<div class="vl" style="left:249px;top:568px;width:1px;height:38px;"></div>
<div class="c" style="left:313px;top:568px;width:72px;height:37px;background:#a4d1ef"><span class="v" style="color:#2b4a66">1</span></div>
<div class="c" style="left:385px;top:568px;width:71px;height:37px;background:#a4d1ef"><span class="v" style="color:#2b4a66">1</span></div>
<div class="c" style="left:456px;top:568px;width:71px;height:37px;background:#a4d1ef"><span class="v" style="color:#2b4a66">1</span></div>
<div class="c" style="left:527px;top:568px;width:71px;height:37px;background:#a4d1ef"><span class="v" style="color:#2b4a66">1</span></div>
<div class="c" style="left:598px;top:568px;width:71px;height:37px;background:#a4d1ef"><span class="v" style="color:#2b4a66">1</span></div>
<div class="c" style="left:669px;top:568px;width:72px;height:37px;background:#a4d1ef"><span class="v" style="color:#2b4a66">1</span></div>
<div class="c" style="left:741px;top:568px;width:71px;height:37px;background:#a4d1ef"><span class="v" style="color:#2b4a66">1</span></div>
<div class="c" style="left:812px;top:568px;width:71px;height:37px;background:#a4d1ef"><span class="v" style="color:#2b4a66">1</span></div>
<div class="c" style="left:883px;top:568px;width:71px;height:37px;background:#a4d1ef"><span class="v" style="color:#2b4a66">1</span></div>
<div class="c" style="left:954px;top:568px;width:71px;height:37px;background:#a4d1ef"><span class="v" style="color:#2b4a66">1</span></div>
<div class="c" style="left:1025px;top:568px;width:72px;height:37px;background:#a4d1ef"><span class="v" style="color:#2b4a66">1</span></div>
<div class="hl" style="left:4px;top:568px;width:310px;height:1px;"></div>
<div class="hl" style="left:4px;top:605px;width:310px;height:1px;"></div>
<div class="rowbg" style="left:4px;top:605px;width:310px;height:38px;background:#f7f7f7"></div>
<div class="st" style="top:605px;height:38px"><svg class="ic" viewBox="0 -0.4 16 12" width="16" height="12"><path d="M1.6 6.4 L6 10.4 L14.4 1.6" fill="none" stroke="#42bb65" stroke-width="2.6" stroke-linecap="round" stroke-linejoin="round"/></svg></div>
<div class="q" style="top:605px;height:38px"><span style="top:1px">памятники эконом класса</span></div>
<div class="fq" style="top:605px;height:38px"><span class="fd">--</span><span class="fv" style="top:21px">10</span></div>
<div class="vl" style="left:4px;top:605px;width:1px;height:38px;"></div>
<div class="vl" style="left:41px;top:605px;width:1px;height:38px;"></div>
<div class="vl" style="left:249px;top:605px;width:1px;height:38px;"></div>
<div class="c sh" style="left:313px;top:605px;width:72px;height:37px;background:#a4d1ef"><span class="v" style="color:#2b4a66">1</span></div>
<div class="c sh" style="left:385px;top:605px;width:71px;height:37px;background:#a4d1ef"><span class="v" style="color:#2b4a66">1</span><span class="d up"><i></i>1</span></div>
<div class="c sh" style="left:456px;top:605px;width:71px;height:37px;background:#b5d9f2"><span class="v" style="color:#2f4d68">2</span><span class="d dn"><i></i>1</span></div>
<div class="c sh" style="left:527px;top:605px;width:71px;height:37px;background:#a4d1ef"><span class="v" style="color:#2b4a66">1</span></div>
<div class="c sh" style="left:598px;top:605px;width:71px;height:37px;background:#a4d1ef"><span class="v" style="color:#2b4a66">1</span></div>
<div class="c sh" style="left:669px;top:605px;width:72px;height:37px;background:#a4d1ef"><span class="v" style="color:#2b4a66">1</span><span class="d up"><i></i>1</span></div>
<div class="c sh" style="left:741px;top:605px;width:71px;height:37px;background:#b5d9f2"><span class="v" style="color:#2f4d68">2</span></div>
<div class="c sh" style="left:812px;top:605px;width:71px;height:37px;background:#b5d9f2"><span class="v" style="color:#2f4d68">2</span></div>
<div class="c sh" style="left:883px;top:605px;width:71px;height:37px;background:#b5d9f2"><span class="v" style="color:#2f4d68">2</span></div>
<div class="c sh" style="left:954px;top:605px;width:71px;height:37px;background:#b5d9f2"><span class="v" style="color:#2f4d68">2</span></div>
<div class="c sh" style="left:1025px;top:605px;width:72px;height:37px;background:#b5d9f2"><span class="v" style="color:#2f4d68">2</span></div>
<div class="hl" style="left:4px;top:605px;width:310px;height:1px;"></div>
<div class="hl" style="left:4px;top:642px;width:310px;height:1px;"></div>
<div class="rowbg" style="left:4px;top:642px;width:310px;height:38px;background:#ffffff"></div>
<div class="st" style="top:642px;height:38px"><svg class="ic" viewBox="0 -0.4 16 12" width="16" height="12"><path d="M1.6 6.4 L6 10.4 L14.4 1.6" fill="none" stroke="#42bb65" stroke-width="2.6" stroke-linecap="round" stroke-linejoin="round"/></svg></div>
<div class="q" style="top:642px;height:38px"><span style="top:1px">эконом памятники</span></div>
<div class="fq" style="top:642px;height:38px"><span class="fd">--</span><span class="fv" style="top:21px">10</span></div>
<div class="vl" style="left:4px;top:642px;width:1px;height:38px;"></div>
<div class="vl" style="left:41px;top:642px;width:1px;height:38px;"></div>
<div class="vl" style="left:249px;top:642px;width:1px;height:38px;"></div>
<div class="c sh lb" style="left:313px;top:642px;width:72px;height:38px;background:#a4d1ef"><span class="v" style="color:#2b4a66">1</span></div>
<div class="c sh lb" style="left:385px;top:642px;width:71px;height:38px;background:#a4d1ef"><span class="v" style="color:#2b4a66">1</span></div>
<div class="c sh lb" style="left:456px;top:642px;width:71px;height:38px;background:#a4d1ef"><span class="v" style="color:#2b4a66">1</span></div>
<div class="c sh lb" style="left:527px;top:642px;width:71px;height:38px;background:#a4d1ef"><span class="v" style="color:#2b4a66">1</span></div>
<div class="c sh lb" style="left:598px;top:642px;width:71px;height:38px;background:#a4d1ef"><span class="v" style="color:#2b4a66">1</span></div>
<div class="c sh lb" style="left:669px;top:642px;width:72px;height:38px;background:#a4d1ef"><span class="v" style="color:#2b4a66">1</span></div>
<div class="c sh lb" style="left:741px;top:642px;width:71px;height:38px;background:#a4d1ef"><span class="v" style="color:#2b4a66">1</span></div>
<div class="c sh lb" style="left:812px;top:642px;width:71px;height:38px;background:#a4d1ef"><span class="v" style="color:#2b4a66">1</span></div>
<div class="c sh lb" style="left:883px;top:642px;width:71px;height:38px;background:#a4d1ef"><span class="v" style="color:#2b4a66">1</span></div>
<div class="c sh lb" style="left:954px;top:642px;width:71px;height:38px;background:#a4d1ef"><span class="v" style="color:#2b4a66">1</span></div>
<div class="c sh lb" style="left:1025px;top:642px;width:72px;height:38px;background:#a4d1ef"><span class="v" style="color:#2b4a66">1</span></div>
<div class="hl" style="left:4px;top:642px;width:310px;height:1px;"></div>
<div class="hl" style="left:4px;top:679px;width:310px;height:1px;"></div>
<div class="g" style="top:679px;height:22px;line-height:22px">мусульманский памятник</div>
<div class="rowbg" style="left:4px;top:701px;width:310px;height:38px;background:#f7f7f7"></div>
<div class="st" style="top:701px;height:38px"><svg class="ic" viewBox="0 -0.4 16 12" width="16" height="12"><path d="M1.6 6.4 L6 10.4 L14.4 1.6" fill="none" stroke="#42bb65" stroke-width="2.6" stroke-linecap="round" stroke-linejoin="round"/></svg></div>
<div class="strip" style="left:42px;top:702px;width:9px;height:36px;"></div>
<div class="q q2" style="top:701px;height:38px"><span style="top:1px">мусульманские памятники на<br>могилу из гранита</span></div>
<div class="fq" style="top:701px;height:38px"><span class="fd">--</span><span class="fv">20</span></div>
<div class="vl" style="left:4px;top:701px;width:1px;height:38px;"></div>
<div class="vl" style="left:41px;top:701px;width:1px;height:38px;"></div>
<div class="vl" style="left:249px;top:701px;width:1px;height:38px;"></div>
<div class="c lb" style="left:313px;top:701px;width:72px;height:38px;background:#a4d1ef"><span class="v" style="color:#2b4a66">1</span></div>
<div class="c lb" style="left:385px;top:701px;width:71px;height:38px;background:#a4d1ef"><span class="v" style="color:#2b4a66">1</span></div>
<div class="c lb" style="left:456px;top:701px;width:71px;height:38px;background:#a4d1ef"><span class="v" style="color:#2b4a66">1</span></div>
<div class="c lb" style="left:527px;top:701px;width:71px;height:38px;background:#a4d1ef"><span class="v" style="color:#2b4a66">1</span></div>
<div class="c lb" style="left:598px;top:701px;width:71px;height:38px;background:#a4d1ef"><span class="v" style="color:#2b4a66">1</span><span class="d up"><i></i>1</span></div>
<div class="c lb" style="left:669px;top:701px;width:72px;height:38px;background:#b5d9f2"><span class="v" style="color:#2f4d68">2</span></div>
<div class="c lb" style="left:741px;top:701px;width:71px;height:38px;background:#b5d9f2"><span class="v" style="color:#2f4d68">2</span><span class="d up"><i></i>2</span></div>
<div class="c lb" style="left:812px;top:701px;width:71px;height:38px;background:#93e1b4"><span class="v" style="color:#2d5f4c">4</span></div>
<div class="c lb" style="left:883px;top:701px;width:71px;height:38px;background:#93e1b4"><span class="v" style="color:#2d5f4c">4</span></div>
<div class="c lb" style="left:954px;top:701px;width:71px;height:38px;background:#93e1b4"><span class="v" style="color:#2d5f4c">4</span><span class="d up"><i></i>6</span></div>
<div class="c lb" style="left:1025px;top:701px;width:72px;height:38px;background:#c9f1db"><span class="v" style="color:#2d5f4c">10</span></div>
<div class="hl" style="left:4px;top:701px;width:310px;height:1px;"></div>
<div class="hl" style="left:4px;top:738px;width:310px;height:1px;"></div>
</div>
</body></html>
